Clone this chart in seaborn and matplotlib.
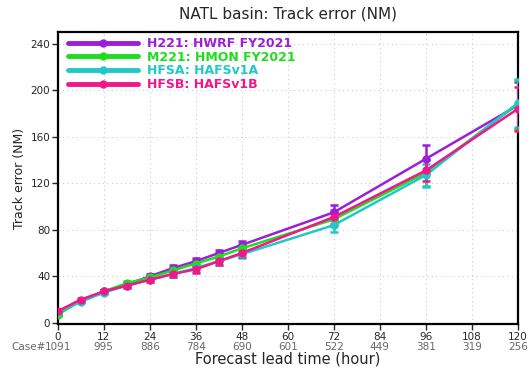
import matplotlib
matplotlib.use("Agg")
import matplotlib.pyplot as plt
import matplotlib.transforms as mtransforms
import pandas as pd
import seaborn as sns

# forecast lead times (hour) and number of verified cases
hours = [0, 6, 12, 18, 24, 30, 36, 42, 48, 72, 96, 120]
tick_hours = [0, 12, 24, 36, 48, 60, 72, 84, 96, 108, 120]
case_counts = ["1091", "995", "886", "784", "690", "601", "522", "449", "381", "319", "256"]

# mean track error (NM) per model
h221 = [8, 19, 27, 33, 40, 47, 53, 60, 67, 95, 141, 187]
m221 = [7, 19, 27, 34, 39, 45, 51, 57, 64, 89, 129, 188]
hfsa = [9, 18, 26, 32, 37, 42, 47, 53, 59, 84, 127, 189]
hfsb = [10, 20, 27, 32, 37, 42, 46, 53, 60, 91, 131, 184]

# error bar half widths (NM)
h221_err = [1, 1, 1.5, 2, 2, 2.5, 3, 3, 3.5, 6.5, 12, 20]
m221_err = [1, 1, 1.5, 2, 2, 2.5, 3, 3, 3.5, 6, 11, 21]
hfsa_err = [1, 1, 1.5, 2, 2, 2.5, 3, 3, 3.5, 5.5, 10, 21]
hfsb_err = [1, 1, 1.5, 2, 2, 2.5, 3, 3, 3.5, 6, 9, 19]

labels = ["H221: HWRF FY2021", "M221: HMON FY2021", "HFSA: HAFSv1A", "HFSB: HAFSv1B"]
colors = ["#9b1fd6", "#1fdc1f", "#22c8c8", "#f0178a"]

series = [h221, m221, hfsa, hfsb]
errors = [h221_err, m221_err, hfsa_err, hfsb_err]

df = pd.concat(
    [pd.DataFrame({"hour": hours, "err": vals, "model": lab}) for vals, lab in zip(series, labels)],
    ignore_index=True,
)

sns.set_style("white")
plt.rcParams["font.family"] = ["DejaVu Sans"]

fig = plt.figure(figsize=(5.30, 3.69), dpi=100)
ax = fig.add_axes([0.109, 0.122, 0.868, 0.791])

ax.grid(True, color="#cccccc", linestyle=(0, (1, 3)), linewidth=0.8)

# error bars first, lines and markers on top
for vals, errs, col in zip(series, errors, colors):
    ax.errorbar(hours, vals, yerr=errs, fmt="none", ecolor=col,
                elinewidth=1.8, capsize=3, capthick=1.8, zorder=3)

sns.lineplot(data=df, x="hour", y="err", hue="model", hue_order=labels,
             palette=colors, marker="o", markersize=6, markeredgewidth=0,
             linewidth=1.8, ax=ax, zorder=4)

ax.set_xlim(0, 120)
ax.set_ylim(-1, 250)
ax.set_xticks(tick_hours)
ax.set_yticks([0, 40, 80, 120, 160, 200, 240])
ax.tick_params(axis="both", direction="out", length=4, width=1, labelsize=7.5,
               left=True, bottom=True, pad=1.5)
for sp in ax.spines.values():
    sp.set_color("black")
    sp.set_linewidth(1.6)

ax.set_xlabel("Forecast lead time (hour)", fontsize=10.5, labelpad=7)
ax.set_ylabel("Track error (NM)", fontsize=9, labelpad=3)
ax.set_title("NATL basin: Track error (NM)", fontsize=11, pad=10)

# case count row under the tick labels
trans = mtransforms.blended_transform_factory(ax.transData, ax.transAxes)
for h, c in zip(tick_hours, case_counts):
    ax.text(h, -0.062, c, transform=trans, ha="center", va="top",
            fontsize=7.5, color="#666666")
ax.annotate("Case#", xy=(0, -0.062), xycoords=trans, xytext=(-8.5, 0),
            textcoords="offset points", ha="right", va="top",
            fontsize=7.5, color="#666666")

leg = ax.legend(loc="upper left", bbox_to_anchor=(0.011, 1.0), frameon=False,
                handlelength=5.6, fontsize=9, borderaxespad=0.2, borderpad=0.2,
                labelspacing=0.05, handletextpad=0.7)
for text, col in zip(leg.get_texts(), colors):
    text.set_color(col)
    text.set_fontweight("bold")
for line in leg.get_lines():
    line.set_linewidth(3.5)

fig.savefig("out.png", dpi=100)
